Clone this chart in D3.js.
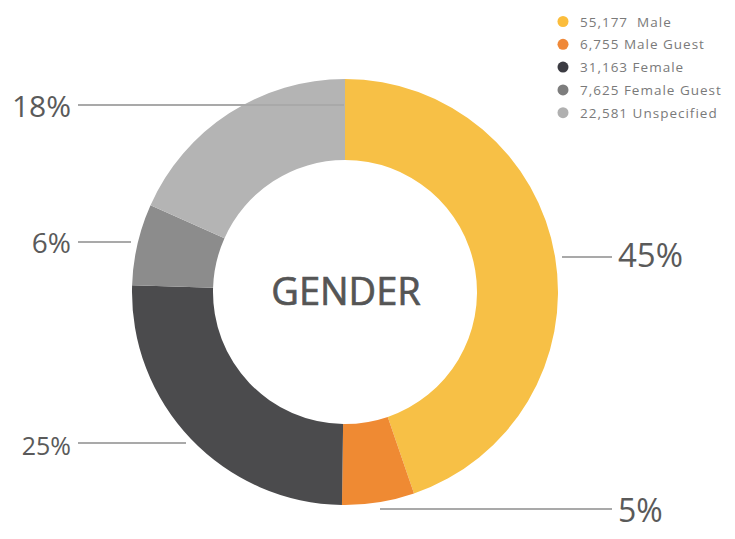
<!DOCTYPE html>
<html>
  <head>
    <meta charset="utf-8" />
    <title>Gender</title>
    <script src="https://d3js.org/d3.v7.min.js"></script>
    <style>
      body { margin: 0; background: #fff; }
      text { font-family: "Open Sans", sans-serif; }
    </style>
  </head>
  <body>
    <svg id="viz"></svg>

    <script>
        // data
        var categories = ["Male", "Male Guest", "Female", "Female Guest", "Unspecified"];
        var counts = [55177, 6755, 31163, 7625, 22581];
        var pctLabels = ["45%", "5%", "25%", "6%", "18%"];
        var colors = ["#f7c046", "#ef8a33", "#4b4b4d", "#8c8c8c", "#b4b4b4"];
        var legendColors = ["#fbbd3c", "#ef8838", "#3b3b42", "#7d7d7d", "#b0b0b0"];

        // leader line layout: line y, line start/end x, text baseline, font size
        var leaders = [
            {y: 257, x1: 562, x2: 612, base: 267, size: 33, side: "right"},
            {y: 509, x1: 380, x2: 612, base: 522, size: 32, side: "right"},
            {y: 443, x1: 186, x2: 78, base: 455, size: 25, side: "left"},
            {y: 242, x1: 131, x2: 78, base: 253, size: 28, side: "left"},
            {y: 105, x1: 344, x2: 78, base: 117, size: 30, side: "left"}
        ];

        var width = 735, height = 539;
        var cx = 345, cy = 292;
        var outerR = 213, innerR = 132;

        var svg = d3.select("#viz")
            .attr("width", width)
            .attr("height", height);

        var pie = d3.pie().sort(null).value(function(d) { return d; });
        var arc = d3.arc().innerRadius(innerR).outerRadius(outerR);

        var g = svg.append("g").attr("transform", "translate(" + cx + "," + cy + ")");

        g.selectAll("path")
            .data(pie(counts))
            .enter().append("path")
            .attr("d", arc)
            .attr("fill", function(d, i) { return colors[i]; });

        // centre title, slightly thickened to look medium weight
        g.append("text")
            .attr("text-anchor", "middle")
            .attr("x", 1)
            .attr("y", 13)
            .attr("font-size", 38)
            .attr("fill", "#555")
            .attr("stroke", "#555")
            .attr("stroke-width", 0.7)
            .text("GENDER");

        // leader lines + labels
        var lab = svg.append("g");
        leaders.forEach(function(l, i) {
            lab.append("line")
                .attr("x1", l.x1).attr("x2", l.x2)
                .attr("y1", l.y).attr("y2", l.y)
                .attr("stroke", "#a9a9a9")
                .attr("stroke-width", 2);
            lab.append("text")
                .attr("x", l.side === "right" ? l.x2 + 6 : l.x2 - 7)
                .attr("y", l.base)
                .attr("text-anchor", l.side === "right" ? "start" : "end")
                .attr("font-size", l.size)
                .attr("fill", "#5a5a5a")
                .text(pctLabels[i]);
        });

        // legend
        var legend = svg.append("g").attr("transform", "translate(563,21.5)");
        var rows = legend.selectAll("g")
            .data(categories)
            .enter().append("g")
            .attr("transform", function(d, i) { return "translate(0," + (i * 22.8) + ")"; });

        rows.append("circle")
            .attr("r", 5.5)
            .attr("fill", function(d, i) { return legendColors[i]; });

        rows.append("text")
            .attr("x", 17)
            .attr("y", 5)
            .attr("font-size", 13.5)
            .attr("letter-spacing", 1)
            .attr("fill", "#7a7a7a")
            .attr("xml:space", "preserve")
            .text(function(d, i) { return d3.format(",")(counts[i]) + (i === 0 ? "  " : " ") + d; });
    </script>
  </body>
</html>
